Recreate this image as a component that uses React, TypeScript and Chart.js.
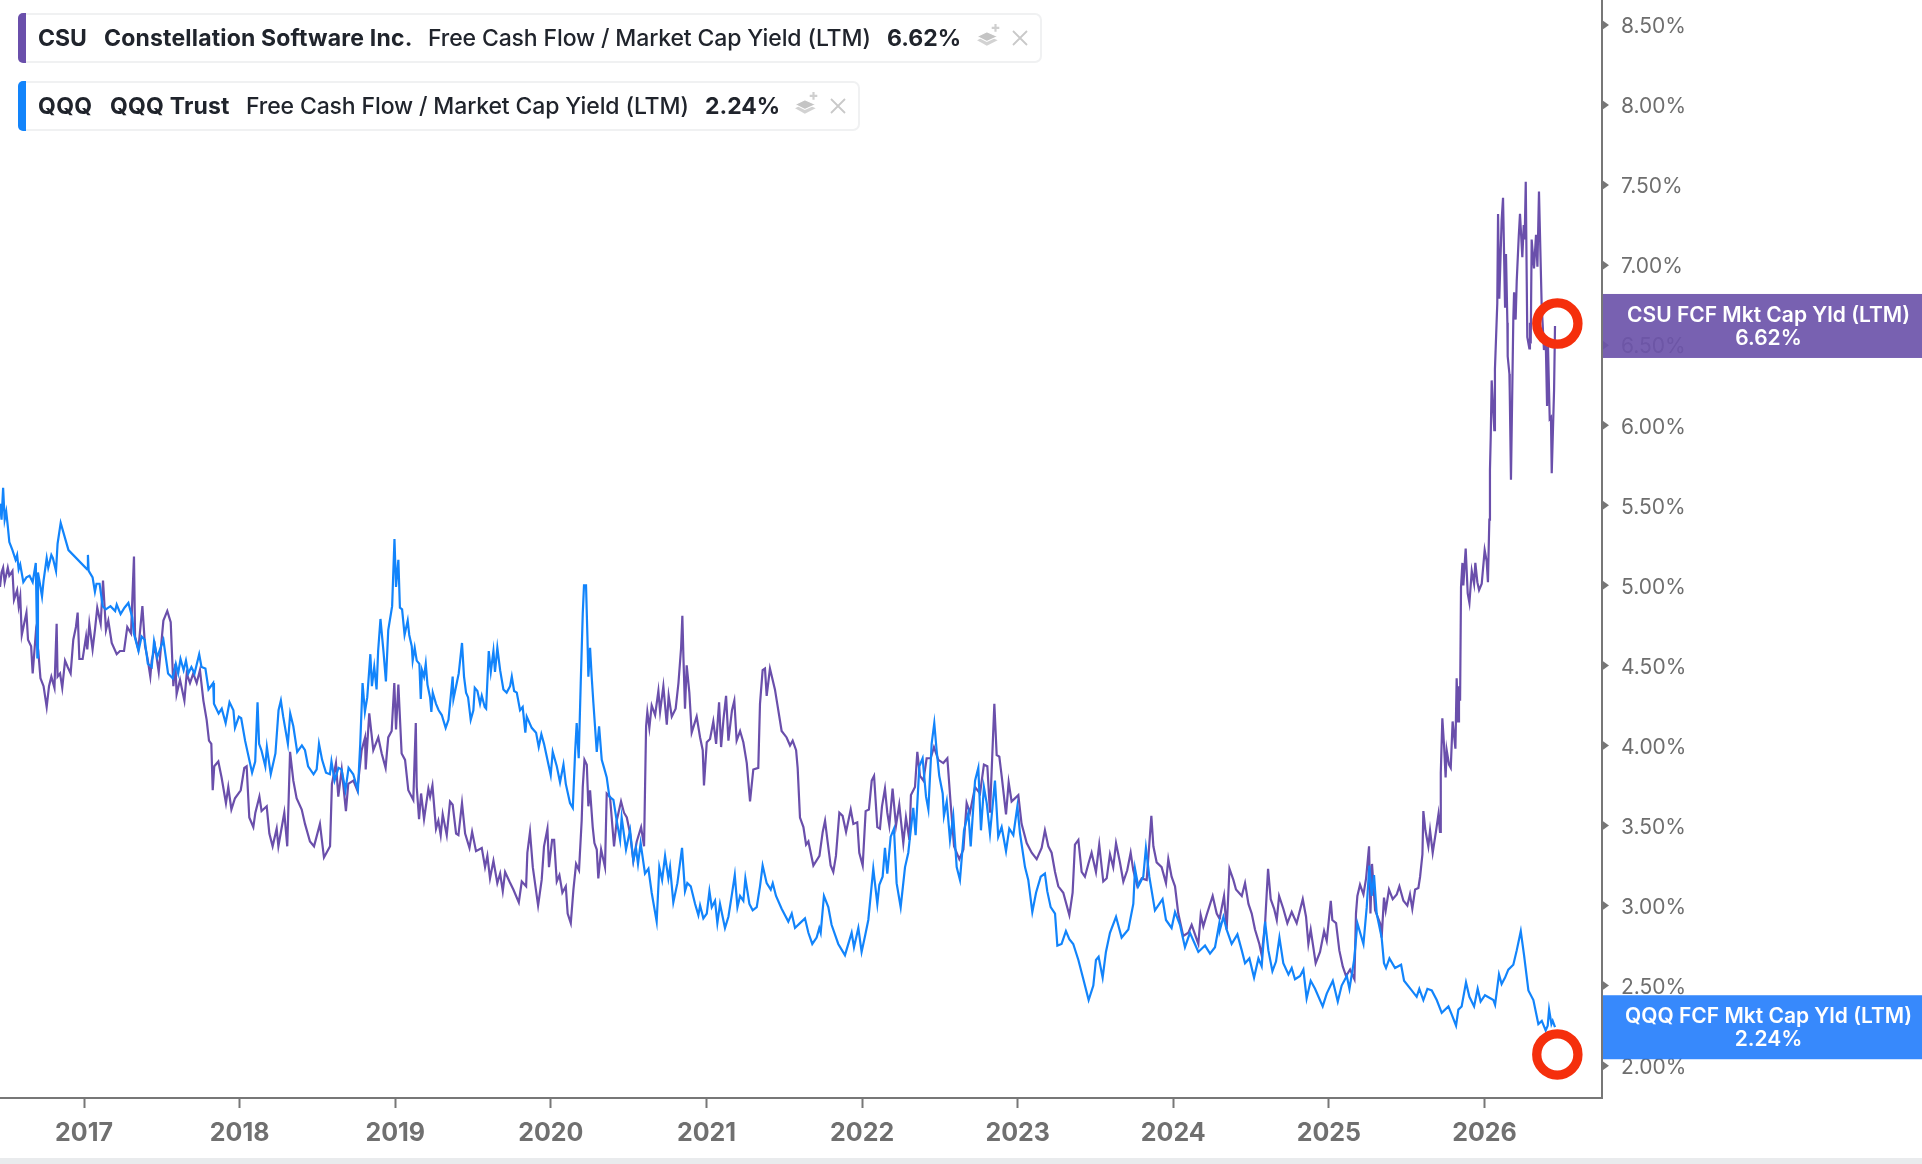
import React, { useEffect, useRef } from "react";
import { Chart, registerables } from "chart.js";

Chart.register(...registerables);

const yearTicks = [2017, 2018, 2019, 2020, 2021, 2022, 2023, 2024, 2025, 2026];
const yieldTicks = [2, 2.5, 3, 3.5, 4, 4.5, 5, 5.5, 6, 6.5, 7, 7.5, 8, 8.5];

const qqqYears = [
  2016.46,2016.47,2016.48,2016.49,2016.5,2016.51,2016.52,2016.54,2016.56,2016.57,2016.58,2016.59,2016.61,2016.63,2016.65,2016.67,2016.69,2016.7,2016.704,2016.72,2016.73,2016.74,2016.76,2016.77,2016.79,2016.8,2016.82,2016.83,2016.85,2016.9,
  2017.02,2017.025,2017.03,2017.055,2017.07,2017.08,2017.1,2017.12,2017.14,2017.17,2017.2,2017.21,2017.235,2017.26,2017.285,2017.31,2017.32,2017.35,2017.37,2017.39,2017.41,2017.435,2017.45,2017.47,2017.51,2017.54,2017.57,2017.59,2017.605,2017.62,2017.64,2017.655,2017.67,2017.69,2017.71,2017.74,2017.755,2017.78,2017.8,2017.83,2017.835,2017.865,2017.885,2017.91,2017.935,2017.96,2017.97,2017.995,
  2018.01,2018.035,2018.08,2018.1,2018.115,2018.125,2018.14,2018.165,2018.175,2018.2,2018.23,2018.25,2018.265,2018.28,2018.31,2018.325,2018.345,2018.37,2018.4,2018.42,2018.44,2018.475,2018.495,2018.51,2018.53,2018.555,2018.58,2018.59,2018.61,2018.635,2018.655,2018.68,2018.7,2018.73,2018.76,2018.775,2018.79,2018.805,2018.82,2018.84,2018.85,2018.865,2018.88,2018.89,2018.905,2018.925,2018.94,2018.955,2018.98,2018.995,2019.005,2019.02,
  2019.03,2019.044,2019.06,2019.08,2019.09,2019.106,2019.112,2019.125,2019.138,2019.155,2019.164,2019.172,2019.185,2019.196,2019.207,2019.224,2019.232,2019.241,2019.262,2019.279,2019.299,2019.324,2019.342,2019.369,2019.374,2019.391,2019.408,2019.429,2019.442,2019.455,2019.468,2019.485,2019.502,2019.511,2019.528,2019.545,2019.556,2019.575,2019.584,2019.601,2019.614,2019.631,2019.641,2019.656,2019.674,2019.695,2019.716,2019.738,2019.749,2019.764,2019.781,2019.802,2019.819,2019.836,2019.845,2019.877,2019.905,2019.922,2019.939,2019.956,2019.999,
  2020.012,2020.038,2020.059,2020.081,2020.096,2020.123,2020.141,2020.156,2020.166,2020.179,2020.192,2020.205,2020.213,2020.226,2020.235,2020.241,2020.252,2020.263,2020.273,2020.295,2020.31,2020.327,2020.342,2020.359,2020.376,2020.402,2020.423,2020.445,2020.455,2020.483,2020.509,2020.53,2020.547,2020.56,2020.577,2020.605,2020.627,2020.648,2020.68,2020.697,2020.715,2020.734,2020.755,2020.766,2020.787,2020.813,2020.843,2020.862,2020.877,2020.899,2020.927,2020.948,2020.959,2020.98,
  2021.002,2021.019,2021.034,2021.055,2021.07,2021.087,2021.119,2021.141,2021.162,2021.182,2021.199,2021.216,2021.237,2021.25,2021.276,2021.297,2021.323,2021.344,2021.361,2021.387,2021.413,2021.426,2021.447,2021.483,2021.526,2021.548,2021.569,2021.601,2021.633,2021.655,2021.68,2021.708,2021.725,
  2021.734,2021.755,2021.783,2021.804,2021.847,2021.89,2021.933,2021.948,2021.976,2021.997,2022.019,2022.04,2022.072,2022.098,2022.111,2022.132,2022.147,2022.162,2022.184,2022.205,2022.222,2022.248,2022.276,2022.297,2022.308,2022.329,2022.344,2022.368,2022.389,2022.411,2022.426,2022.447,2022.464,2022.479,2022.496,2022.518,2022.526,2022.544,2022.565,2022.586,2022.608,2022.629,2022.655,2022.683,2022.698,2022.726,2022.747,2022.764,2022.783,2022.801,2022.822,2022.854,2022.875,2022.897,2022.925,2022.946,2022.972,2022.998,
  2023.015,2023.047,2023.068,2023.094,2023.118,2023.148,2023.175,2023.19,2023.212,2023.24,2023.255,2023.282,2023.31,2023.332,2023.357,2023.39,2023.422,2023.456,2023.486,2023.503,2023.52,2023.546,2023.567,2023.593,2023.632,2023.668,2023.711,2023.743,2023.754,2023.775,2023.807,2023.824,2023.846,2023.882,2023.931,2023.953,2023.989,
  2024.011,2024.043,2024.075,2024.107,2024.161,2024.204,2024.236,2024.268,2024.296,
  2024.3,2024.322,2024.343,2024.375,2024.412,2024.44,2024.461,2024.489,2024.519,2024.547,2024.568,2024.59,2024.611,2024.637,2024.66,2024.682,2024.707,2024.74,2024.761,2024.782,2024.815,2024.836,2024.857,2024.883,2024.911,2024.96,2024.986,
  2025.025,2025.057,2025.082,2025.115,2025.132,2025.162,2025.183,2025.222,2025.243,2025.26,2025.275,2025.29,2025.307,2025.339,2025.354,2025.367,2025.389,2025.425,2025.464,2025.483,2025.532,2025.564,2025.581,2025.607,2025.633,2025.661,2025.693,2025.725,2025.768,2025.789,2025.817,2025.832,2025.853,2025.881,2025.903,2025.933,2025.956,2025.975,
  2026.003,2026.057,2026.068,2026.093,2026.11,2026.132,2026.153,2026.185,2026.207,2026.233,2026.254,2026.282,2026.314,2026.346,2026.368,2026.393,2026.406,2026.415,2026.43,2026.438,2026.453,2026.455,
];

const qqqYields = [
  5.51,5.41,5.61,5.41,5.46,5.37,5.27,5.22,5.16,5.19,5.1,5.13,5.02,5.05,5.06,5.02,5.14,4.55,5.08,4.99,4.93,5.03,5.17,5.11,5.19,5.17,5.09,5.26,5.39,5.22,
  5.1,5.19,5.09,5.05,4.96,5.01,5.01,4.87,4.85,4.87,4.84,4.88,4.82,4.86,4.89,4.8,4.7,4.59,4.68,4.66,4.51,4.49,4.65,4.55,4.66,4.45,4.42,4.51,4.45,4.54,4.47,4.53,4.45,4.49,4.45,4.57,4.49,4.48,4.35,4.39,4.26,4.2,4.23,4.14,4.27,4.22,4.11,4.18,
  4.17,4.03,3.83,3.9,4.27,4.01,3.97,3.87,3.99,3.82,3.95,4.22,4.28,4.18,4.01,4.2,4.12,3.96,4,3.97,3.87,3.82,3.85,4.01,3.91,3.83,3.82,3.9,3.78,3.86,3.85,3.72,3.86,3.82,3.72,4.01,4.39,4.21,4.3,4.57,4.37,4.49,4.35,4.59,4.79,4.58,4.4,4.72,4.87,5.29,4.99,5.16,
  4.86,4.85,4.69,4.78,4.69,4.62,4.53,4.61,4.53,4.51,4.29,4.47,4.43,4.51,4.38,4.3,4.21,4.33,4.26,4.22,4.19,4.11,4.16,4.43,4.29,4.37,4.45,4.64,4.43,4.33,4.3,4.16,4.22,4.36,4.34,4.26,4.31,4.24,4.23,4.59,4.46,4.59,4.46,4.61,4.47,4.35,4.33,4.37,4.43,4.34,4.33,4.22,4.24,4.08,4.18,4.11,4.08,3.99,4.07,4.01,3.815,
  3.96,3.87,3.77,3.88,3.76,3.64,3.61,3.96,4.14,3.92,4.39,4.825,5,5,4.68,4.43,4.61,4.42,4.27,3.96,4.12,3.91,3.86,3.8,3.68,3.66,3.53,3.41,3.55,3.35,3.47,3.28,3.36,3.26,3.39,3.2,3.23,3.08,2.9,3.24,3.16,3.31,3.17,3.24,3.02,3.14,3.36,3.09,3.14,3.12,3.01,2.94,3,2.92,
  2.95,3.09,2.99,3.03,2.89,3.01,2.86,2.93,3.06,3.19,2.99,3.06,3.03,3.17,3.01,2.97,2.99,3.12,3.25,3.14,3.1,3.14,3.06,2.98,2.9,2.95,2.86,2.89,2.92,2.83,2.76,2.8,2.86,
  2.83,3.06,2.99,2.88,2.76,2.69,2.83,2.74,2.86,2.71,2.81,2.91,3.23,3.01,3.13,3.18,3.36,3.2,3.43,3.48,3.14,2.99,3.24,3.33,3.43,3.61,3.44,3.87,3.92,3.68,3.6,4.01,4.14,3.97,3.81,3.7,3.56,3.65,3.41,3.56,3.24,3.16,3.47,3.58,3.37,3.78,3.86,3.47,3.74,3.64,3.45,3.78,3.43,3.49,3.34,3.48,3.44,3.62,
  3.45,3.24,3.16,2.96,3.08,3.18,3.2,3.09,2.99,2.95,2.75,2.76,2.84,2.79,2.76,2.66,2.54,2.41,2.5,2.66,2.68,2.55,2.71,2.83,2.93,2.8,2.85,3.01,3.23,3.12,3.18,3.36,3.18,2.97,3.04,2.91,2.86,
  2.96,2.88,2.74,2.83,2.71,2.75,2.7,2.74,2.89,
  2.85,2.93,2.85,2.76,2.82,2.72,2.64,2.67,2.55,2.67,2.62,2.9,2.72,2.59,2.65,2.8,2.64,2.57,2.61,2.54,2.56,2.6,2.42,2.53,2.48,2.37,2.45,
  2.53,2.4,2.5,2.56,2.48,2.66,2.89,2.76,2.99,3.25,3.06,3.19,2.95,2.8,2.64,2.61,2.67,2.61,2.63,2.53,2.47,2.43,2.48,2.41,2.48,2.47,2.41,2.33,2.37,2.32,2.25,2.35,2.37,2.52,2.43,2.37,2.48,2.4,
  2.44,2.41,2.38,2.57,2.51,2.55,2.6,2.63,2.72,2.84,2.69,2.47,2.41,2.26,2.28,2.22,2.25,2.35,2.26,2.28,2.24,
];

const csuYears = [
  2016.46,2016.47,2016.48,2016.49,2016.51,2016.52,2016.54,2016.55,2016.57,2016.58,2016.59,2016.6,2016.63,2016.64,2016.66,2016.67,2016.69,2016.706,2016.72,2016.74,2016.76,2016.775,2016.79,2016.81,2016.824,2016.83,2016.846,2016.86,2016.878,2016.895,2016.914,2016.931,2016.948,2016.959,2016.97,2016.991,
  2017.013,2017.021,2017.034,2017.055,2017.07,2017.085,2017.107,2017.122,2017.141,2017.156,2017.178,2017.21,2017.231,2017.257,2017.278,2017.302,2017.321,2017.328,2017.349,2017.375,2017.392,2017.407,2017.426,2017.435,2017.456,2017.48,2017.51,2017.535,2017.557,2017.574,2017.587,2017.595,2017.617,2017.645,2017.66,2017.681,2017.702,2017.724,2017.745,2017.767,2017.788,2017.803,2017.818,2017.827,2017.837,2017.863,2017.884,2017.912,2017.927,2017.947,2017.97,
  2018.007,2018.03,2018.045,2018.062,2018.088,2018.101,2018.127,2018.141,2018.174,2018.191,2018.212,2018.238,2018.249,2018.287,2018.306,2018.324,2018.345,2018.366,2018.399,2018.42,2018.452,2018.478,2018.516,2018.542,2018.581,2018.593,2018.619,2018.634,2018.656,2018.683,2018.698,2018.731,2018.756,2018.784,2018.806,2018.81,2018.833,2018.859,2018.891,2018.913,2018.938,2018.955,2018.977,2018.994,2019.005,2019.02,2019.041,2019.063,2019.084,2019.116,
  2019.132,2019.138,2019.153,2019.166,2019.185,2019.213,2019.224,2019.239,2019.262,2019.277,2019.292,2019.305,2019.331,2019.352,2019.369,2019.391,2019.406,2019.429,2019.449,2019.477,2019.494,2019.519,2019.556,2019.577,2019.592,2019.609,2019.631,2019.656,2019.674,2019.691,2019.706,2019.734,2019.759,2019.794,2019.813,2019.841,2019.849,2019.866,2019.884,2019.918,2019.941,2019.956,2019.978,2019.988,
  2020.008,2020.021,2020.038,2020.055,2020.074,2020.096,2020.108,2020.128,2020.145,2020.162,2020.181,2020.198,2020.205,2020.216,2020.231,2020.241,2020.252,2020.269,2020.28,2020.295,2020.305,2020.323,2020.348,2020.359,2020.38,2020.406,2020.423,2020.451,2020.47,2020.488,2020.509,2020.53,2020.552,2020.58,2020.599,2020.612,2020.62,2020.633,2020.648,2020.67,2020.691,2020.702,2020.723,2020.745,2020.757,2020.777,2020.802,2020.82,2020.837,2020.845,2020.852,2020.862,2020.873,2020.89,2020.905,2020.937,2020.959,2020.976,2020.984,
  2021.002,2021.023,2021.044,2021.062,2021.081,2021.094,2021.109,2021.126,2021.141,2021.164,2021.179,2021.194,2021.216,2021.237,2021.259,2021.28,2021.301,2021.333,2021.344,2021.361,2021.376,2021.387,2021.408,2021.44,2021.455,2021.483,2021.515,2021.537,2021.554,2021.576,2021.586,2021.601,2021.623,2021.64,2021.655,2021.687,2021.726,
  2021.747,2021.762,2021.777,2021.798,2021.815,2021.832,2021.854,2021.875,2021.897,2021.927,2021.944,2021.969,2021.982,2022.004,2022.023,2022.044,2022.062,2022.077,2022.098,2022.115,2022.128,2022.147,2022.162,2022.175,2022.196,2022.218,2022.239,2022.265,2022.282,2022.304,2022.314,2022.34,2022.355,2022.372,2022.394,2022.415,2022.441,2022.462,2022.49,2022.522,2022.548,2022.569,2022.591,2022.625,2022.651,2022.672,2022.693,2022.726,2022.758,2022.783,2022.805,2022.822,2022.85,2022.865,2022.882,2022.897,2022.925,2022.942,2022.961,
  2023.004,2023.025,2023.058,2023.09,2023.122,2023.154,2023.175,2023.197,2023.218,2023.24,2023.261,2023.293,2023.332,2023.353,2023.368,2023.39,2023.411,2023.432,2023.454,2023.475,2023.503,2023.524,2023.55,2023.572,2023.593,2023.614,2023.632,2023.657,2023.679,2023.704,2023.726,2023.743,2023.769,2023.797,2023.829,2023.859,2023.872,2023.893,2023.925,2023.953,2023.968,2023.989,
  2024.011,2024.032,2024.064,2024.097,2024.118,2024.161,2024.176,2024.193,2024.214,2024.253,2024.279,2024.296,
  2024.3,2024.326,2024.343,2024.361,2024.386,2024.403,2024.44,2024.461,2024.483,2024.504,2024.525,2024.553,2024.568,2024.59,2024.609,2024.626,2024.648,2024.665,2024.68,2024.707,2024.733,2024.761,2024.793,2024.832,2024.853,2024.868,2024.883,2024.915,2024.943,2024.969,2024.986,
  2025.012,2025.022,2025.046,2025.067,2025.089,2025.11,2025.136,2025.164,2025.174,2025.183,2025.2,2025.222,2025.239,2025.258,2025.267,2025.277,2025.297,2025.329,2025.339,2025.354,2025.365,2025.386,2025.41,2025.436,2025.453,2025.479,2025.504,2025.521,2025.536,2025.554,2025.575,2025.586,2025.601,2025.607,2025.62,2025.639,2025.65,2025.667,2025.689,2025.704,2025.714,
  2025.718,2025.72,2025.729,2025.74,2025.75,2025.757,2025.772,2025.783,2025.795,2025.813,2025.821,2025.83,2025.836,2025.843,2025.849,2025.858,2025.864,2025.879,2025.892,2025.903,2025.918,2025.933,2025.941,2025.954,2025.965,2025.982,
  2026.001,2026.014,2026.022,2026.031,2026.035,2026.04,2026.046,2026.063,2026.067,2026.082,2026.087,2026.095,2026.11,2026.119,2026.132,2026.138,2026.147,2026.149,2026.16,2026.162,2026.17,2026.185,2026.19,2026.2,2026.207,2026.22,2026.228,2026.243,2026.252,2026.258,2026.265,2026.275,2026.288,2026.292,2026.297,2026.303,2026.318,2026.331,2026.34,2026.35,2026.367,2026.382,2026.393,2026.402,2026.408,2026.419,2026.427,2026.432,2026.447,2026.453,
];

const csuYields = [
  4.99,5.08,5.11,5.02,5.11,5.06,5.09,4.91,4.97,4.87,4.93,4.69,4.83,4.66,4.62,4.45,4.7,4.59,4.42,4.37,4.24,4.37,4.43,4.36,4.76,4.43,4.45,4.36,4.53,4.49,4.45,4.66,4.74,4.83,4.54,4.54,
  4.68,4.6,4.76,4.6,4.72,4.86,4.76,5.03,4.72,4.78,4.64,4.57,4.59,4.59,4.74,4.7,5.18,4.68,4.6,4.87,4.62,4.55,4.43,4.53,4.62,4.46,4.78,4.84,4.77,4.37,4.51,4.32,4.41,4.28,4.45,4.39,4.45,4.39,4.47,4.28,4.16,4.03,4.01,3.72,3.87,3.9,3.8,3.64,3.74,3.6,3.67,
  3.72,3.86,3.87,3.55,3.49,3.58,3.68,3.59,3.62,3.45,3.37,3.48,3.37,3.58,3.37,3.96,3.78,3.67,3.6,3.51,3.4,3.37,3.51,3.3,3.37,3.76,3.89,3.68,3.85,3.59,3.76,3.78,3.72,3.97,4.05,3.85,4.2,3.97,4.05,3.95,3.86,4.05,4.09,4.39,4.1,4.38,3.95,3.91,3.72,3.66,
  4.14,3.74,3.54,3.7,3.54,3.73,3.68,3.75,3.48,3.53,3.44,3.57,3.44,3.65,3.63,3.45,3.44,3.64,3.45,3.36,3.46,3.34,3.36,3.24,3.31,3.17,3.28,3.14,3.2,3.09,3.21,3.15,3.1,3.02,3.15,3.12,3.33,3.46,3.24,3,3.16,3.37,3.48,3.24,
  3.41,3.41,3.15,3.19,3.08,3.12,2.95,2.89,3.1,3.26,3.22,3.53,3.74,3.91,3.88,3.62,3.72,3.49,3.39,3.35,3.17,3.35,3.24,3.7,3.68,3.37,3.53,3.65,3.58,3.55,3.45,3.28,3.4,3.49,3.37,4.12,4.21,4.11,4.25,4.19,4.34,4.21,4.37,4.13,4.31,4.18,4.23,4.39,4.61,4.81,4.55,4.23,4.5,4.33,4.08,4.18,4.05,3.97,3.75,
  4.02,4.04,4.15,4.01,4.27,3.99,4.16,4.31,4.03,4.22,4.28,4.03,4.09,4.02,3.89,3.65,3.85,3.86,4.26,4.47,4.48,4.31,4.48,4.35,4.26,4.09,4.05,4,4.03,3.97,3.86,3.55,3.49,3.38,3.4,3.25,3.31,
  3.46,3.53,3.41,3.25,3.21,3.31,3.58,3.56,3.46,3.6,3.51,3.52,3.33,3.25,3.59,3.6,3.78,3.81,3.49,3.48,3.62,3.73,3.58,3.5,3.73,3.5,3.63,3.39,3.55,3.41,3.69,3.74,3.96,3.81,3.78,3.92,3.92,3.99,3.91,3.89,3.92,3.64,3.37,3.29,3.35,3.64,3.58,3.74,3.7,3.88,3.87,3.58,4.26,3.94,3.93,3.81,3.57,3.77,3.65,
  3.69,3.51,3.39,3.33,3.29,3.36,3.47,3.37,3.33,3.21,3.12,3.08,2.94,3.08,3.38,3.41,3.21,3.18,3.26,3.33,3.21,3.38,3.15,3.17,3.32,3.24,3.39,3.27,3.15,3.22,3.33,3.22,3.12,3.17,3.16,3.56,3.37,3.27,3.24,3.14,3.29,3.18,
  3.12,2.95,2.81,2.83,2.88,2.76,2.94,2.87,2.94,3.06,2.95,2.92,
  2.93,3.06,2.85,3.23,3.16,3.1,3.06,3.14,3.01,2.95,2.85,2.76,2.69,2.89,3.23,3.04,2.98,2.91,3.06,2.98,2.89,2.96,2.89,3.04,2.93,2.76,2.85,2.64,2.71,2.84,2.78,
  3.03,2.91,2.89,2.72,2.62,2.56,2.6,2.54,2.95,3.06,3.13,3.07,3.17,3.37,2.95,3.26,2.97,2.89,2.8,3.05,2.97,3.1,3.04,3.07,3.12,3.03,3,3.07,2.98,3.1,3.11,3.18,3.32,3.59,3.47,3.37,3.47,3.33,3.47,3.57,3.46,
  3.72,3.83,4.17,4,3.8,3.97,3.88,3.86,4.15,3.98,4.42,4.15,4.37,4.28,4.99,5.14,5,5.23,4.95,4.89,5.09,5.01,5.14,5.02,4.97,5.01,
  5.22,5.15,5.02,5.41,5.72,5.93,6.28,5.97,6.35,6.76,7.32,6.79,7.28,7.42,6.74,7.07,6.64,6.43,6.32,6.22,5.66,6.66,6.83,6.66,6.9,7.18,7.32,7.05,7.25,7.16,7.52,6.55,6.48,6.64,6.51,7.16,6.98,7.19,6.99,7.46,6.76,6.47,6.55,6.12,6.49,6.04,6.05,5.7,6.22,6.62,
];

// hand drawn circles on the original screenshot
const ringYears = [2026.468, 2026.468];
const ringYields = [6.635, 2.07];

const endLabels = [
  { title: "CSU FCF Mkt Cap Yld (LTM)", value: csuYields[csuYields.length - 1], fill: "rgba(108, 84, 170, 0.92)" },
  { title: "QQQ FCF Mkt Cap Yld (LTM)", value: qqqYields[qqqYields.length - 1], fill: "rgba(38, 127, 252, 0.92)" },
];

const toPoints = (xs: number[], ys: number[]) => xs.map((x, i) => ({ x, y: ys[i] }));

const FONT = "Inter, sans-serif";
const AXIS_GREY = "#777777";

// stop chart.js reserving room for half a tick label round the plot
const noPadding = (scale: any) => {
  scale.paddingLeft = 0;
  scale.paddingRight = 0;
  scale.paddingTop = 0;
  scale.paddingBottom = 0;
};

const axisExtras = {
  id: "axisExtras",
  afterDraw(chart: any) {
    const { ctx, scales, chartArea } = chart;
    const y = scales.y;

    // little arrow heads on the value axis
    ctx.save();
    ctx.fillStyle = AXIS_GREY;
    yieldTicks.forEach((v) => {
      const py = y.getPixelForValue(v);
      ctx.beginPath();
      ctx.moveTo(chartArea.right, py - 5);
      ctx.lineTo(chartArea.right + 7, py);
      ctx.lineTo(chartArea.right, py + 5);
      ctx.closePath();
      ctx.fill();
    });

    // price tags sit over the tick labels
    endLabels.forEach((tag) => {
      const py = y.getPixelForValue(tag.value);
      const left = chartArea.right + 1;
      const width = chart.width - left;
      ctx.fillStyle = tag.fill;
      ctx.fillRect(left, py - 32, width, 64);
      ctx.fillStyle = "#ffffff";
      ctx.font = `600 21px ${FONT}`;
      ctx.textAlign = "center";
      ctx.textBaseline = "middle";
      ctx.fillText(tag.title, left + width / 2 + 6, py - 10.5);
      ctx.fillText(`${tag.value.toFixed(2)}%`, left + width / 2 + 6, py + 12.5);
    });
    ctx.restore();
  },
};

function StackIcon({ left, top }: { left: number; top: number }) {
  return (
    <svg
      width={26}
      height={26}
      viewBox="0 0 24 24"
      style={{ position: "absolute", left, top }}
    >
      <path d="M1 16 L10 11.5 L20 16 L10 21 Z" fill="#d2d2d2" />
      <path d="M1 12.5 L10 8 L20 12.5 L10 17 Z" fill="#c4c4c4" stroke="#fff" strokeWidth={1} />
      <path d="M18 1 V8 M14.5 4.5 H21.5" stroke="#cfcfcf" strokeWidth={2} />
    </svg>
  );
}

function CloseIcon({ left, top }: { left: number; top: number }) {
  return (
    <svg
      width={16}
      height={16}
      viewBox="0 0 16 16"
      style={{ position: "absolute", left, top }}
    >
      <path d="M1 1 L15 15 M15 1 L1 15" stroke="#c9c9c9" strokeWidth={1.8} />
    </svg>
  );
}

function LegendChip({
  top,
  width,
  color,
  parts,
  iconLeft,
  closeLeft,
}: {
  top: number;
  width: number;
  color: string;
  parts: { text: string; left: number; weight: number; spacing?: string }[];
  iconLeft: number;
  closeLeft: number;
}) {
  return (
    <div
      style={{
        position: "absolute",
        left: 18,
        top,
        width,
        height: 50,
        boxSizing: "border-box",
        background: "#fff",
        border: "2px solid #f0f1f2",
        borderLeft: "none",
        borderRadius: 7,
      }}
    >
      <div
        style={{
          position: "absolute",
          left: 0,
          top: -2,
          width: 8,
          height: 50,
          background: color,
          borderRadius: "5px 0 0 5px",
        }}
      />
      {parts.map((p) => (
        <span
          key={p.text}
          style={{
            position: "absolute",
            left: p.left - 18,
            top: 0,
            lineHeight: "46px",
            fontFamily: FONT,
            fontSize: 23,
            fontWeight: p.weight,
            color: "#20242c",
            whiteSpace: "nowrap",
            letterSpacing: p.spacing,
          }}
        >
          {p.text}
        </span>
      ))}
      <StackIcon left={iconLeft - 18} top={8} />
      <CloseIcon left={closeLeft - 18} top={15} />
    </div>
  );
}

export default function App() {
  const canvasRef = useRef<HTMLCanvasElement | null>(null);

  useEffect(() => {
    if (!canvasRef.current) return;

    const chart = new Chart(canvasRef.current, {
      type: "line",
      data: {
        datasets: [
          {
            label: "rings",
            data: toPoints(ringYears, ringYields),
            showLine: false,
            pointRadius: 20.6,
            pointBorderWidth: 9.3,
            pointBorderColor: "#f52f0c",
            pointBackgroundColor: "rgba(0,0,0,0)",
            order: 0,
          },
          {
            label: "QQQ",
            data: toPoints(qqqYears, qqqYields),
            borderColor: "#1284fb",
            borderWidth: 2.2,
            pointRadius: 0,
            tension: 0,
            order: 1,
          },
          {
            label: "CSU",
            data: toPoints(csuYears, csuYields),
            borderColor: "#6a4fab",
            borderWidth: 2.2,
            pointRadius: 0,
            tension: 0,
            order: 2,
          },
        ],
      },
      options: {
        animation: false,
        responsive: false,
        devicePixelRatio: 1,
        // the rings would otherwise push the plot in from the top and left
        layout: { padding: 0, autoPadding: false },
        plugins: { legend: { display: false }, tooltip: { enabled: false } },
        scales: {
          x: {
            type: "linear",
            min: 2016.46,
            max: 2026.755,
            afterFit: (scale: any) => {
              scale.height = 66;
              noPadding(scale);
            },
            afterBuildTicks: (scale: any) => {
              scale.ticks = yearTicks.map((value) => ({ value }));
            },
            grid: {
              drawOnChartArea: false,
              tickLength: 10,
              tickWidth: 2,
              tickColor: AXIS_GREY,
            },
            border: { color: AXIS_GREY, width: 2 },
            ticks: {
              autoSkip: false,
              maxRotation: 0,
              padding: 10,
              color: "#707070",
              font: { family: FONT, size: 25, weight: "700" },
              callback: (value: any) => String(value),
            },
          },
          y: {
            type: "linear",
            position: "right",
            min: 1.798,
            max: 8.656,
            afterFit: (scale: any) => {
              scale.width = 320;
              noPadding(scale);
            },
            afterBuildTicks: (scale: any) => {
              scale.ticks = yieldTicks.map((value) => ({ value }));
            },
            grid: { drawOnChartArea: false, drawTicks: false },
            border: { color: AXIS_GREY, width: 2 },
            ticks: {
              autoSkip: false,
              padding: 19,
              labelOffset: 2,
              color: "#6e6e6e",
              font: { family: FONT, size: 21 },
              callback: (value: any) => `${Number(value).toFixed(2)}%`,
            },
          },
        },
      },
      plugins: [axisExtras],
    } as any);

    return () => chart.destroy();
  }, []);

  return (
    <div style={{ position: "absolute", left: 0, top: 0, width: 1922, height: 1164, background: "#fff", overflow: "hidden" }}>
      <canvas ref={canvasRef} width={1922} height={1164} style={{ position: "absolute", left: 0, top: 0 }} />
      <LegendChip
        top={13}
        width={1024}
        color="#6a4fab"
        iconLeft={976}
        closeLeft={1012}
        parts={[
          { text: "CSU", left: 38, weight: 700 },
          { text: "Constellation Software Inc.", left: 104, weight: 700, spacing: "0.18px" },
          { text: "Free Cash Flow / Market Cap Yield (LTM)", left: 428, weight: 500, spacing: "-0.13px" },
          { text: "6.62%", left: 887, weight: 700 },
        ]}
      />
      <LegendChip
        top={81}
        width={842}
        color="#1284fb"
        iconLeft={794}
        closeLeft={830}
        parts={[
          { text: "QQQ", left: 38, weight: 700, spacing: "0.3px" },
          { text: "QQQ Trust", left: 110, weight: 700, spacing: "0.18px" },
          { text: "Free Cash Flow / Market Cap Yield (LTM)", left: 246, weight: 500, spacing: "-0.13px" },
          { text: "2.24%", left: 705, weight: 700 },
        ]}
      />
      <div style={{ position: "absolute", left: 0, top: 1158, width: 1922, height: 6, background: "#e9ebed" }} />
    </div>
  );
}
